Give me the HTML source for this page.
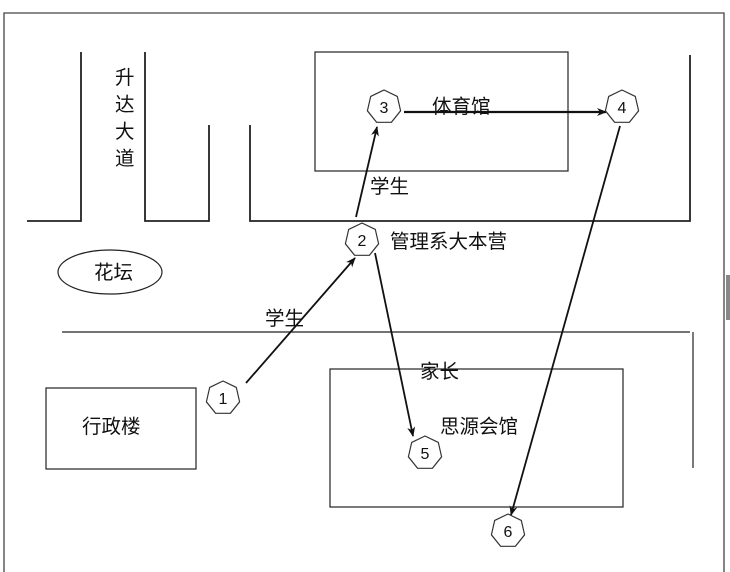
<!DOCTYPE html>
<html><head><meta charset="utf-8"><style>
body{margin:0;background:#fff;}
svg{display:block;}
text{font-family:"Liberation Sans","Noto Sans CJK SC",sans-serif;font-size:19.5px;fill:#111;}
.n{font-size:16px;text-anchor:middle;}
</style></head><body>
<svg width="730" height="572" viewBox="0 0 730 572">
<defs><marker id="a" markerWidth="10" markerHeight="10" refX="9" refY="5" orient="auto" markerUnits="userSpaceOnUse"><path d="M0,1 L10,5 L0,9 L3,5 Z" fill="#111"/></marker></defs>
<g fill="none" stroke="#444" stroke-width="1.3">
<path d="M4,572 V13 H724 V572"/>
</g>
<rect x="726" y="275" width="4" height="45" fill="#888"/>
<g fill="none" stroke="#222" stroke-width="1.8">
<path d="M27,221 H81 V52"/>
<path d="M145,52 V221 H209 V125"/>
<path d="M250,125 V221 H690 V55"/>
</g>
<g fill="none" stroke="#222" stroke-width="1.2">
<rect x="315" y="52" width="253" height="119"/>
<path d="M62,332 H690"/><path d="M693,332 V468"/>
<rect x="46" y="388" width="150" height="81"/>
<rect x="330" y="369" width="293" height="138"/>
<ellipse cx="110" cy="272" rx="52" ry="22"/>
</g>
<g stroke="#111" stroke-width="1.8" fill="none" marker-end="url(#a)">
<line x1="246" y1="383" x2="355" y2="258"/>
<line x1="356" y1="217" x2="377" y2="127"/>
<line x1="404" y1="112" x2="606" y2="112" stroke-width="2.2"/>
<line x1="375" y1="253" x2="413" y2="436"/>
<line x1="620" y1="126" x2="511" y2="515"/>
</g>
<g fill="#fff" stroke="#333" stroke-width="1.2">
<polygon id="h" points="0,-17 13.3,-10.6 16.6,3.8 7.4,15.3 -7.4,15.3 -16.6,3.8 -13.3,-10.6" transform="translate(384,107)"/>
<use href="#h" transform="translate(238,0)"/>
<use href="#h" transform="translate(-22,133)"/>
<use href="#h" transform="translate(-161,291)"/>
<use href="#h" transform="translate(41,346)"/>
<use href="#h" transform="translate(124,424)"/>
</g>
<text class="n" x="384" y="113">3</text>
<text class="n" x="622" y="113">4</text>
<text class="n" x="362" y="246">2</text>
<text class="n" x="223" y="404">1</text>
<text class="n" x="425" y="459">5</text>
<text class="n" x="508" y="537">6</text>
<text x="115" y="84">升</text><text x="115" y="111">达</text><text x="115" y="138">大</text><text x="115" y="165">道</text>
<text x="94" y="279">花坛</text>
<text x="432" y="113">体育馆</text>
<text x="370" y="193">学生</text>
<text x="390" y="248">管理系大本营</text>
<text x="265" y="325">学生</text>
<text x="420" y="378">家长</text>
<text x="82" y="433">行政楼</text>
<text x="440" y="433">思源会馆</text>
</svg>
</body></html>
